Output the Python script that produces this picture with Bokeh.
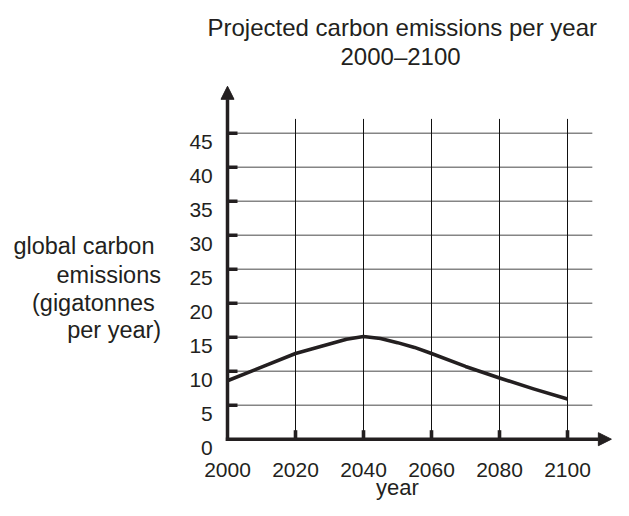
from bokeh.plotting import figure
from bokeh.models import Range1d, Arrow, NormalHead
from bokeh.embed import file_html
from bokeh.resources import INLINE
from bokeh.core.properties import value

# ---- data ----
years = [2000, 2010, 2020, 2025, 2030, 2035, 2040, 2045, 2050, 2055, 2060, 2070, 2080, 2090, 2100]
emissions = [8.6, 10.6, 12.6, 13.3, 14.0, 14.7, 15.1, 14.8, 14.2, 13.5, 12.6, 10.7, 9.0, 7.4, 5.9]
x_ticks = [2000, 2020, 2040, 2060, 2080, 2100]
y_ticks = [0, 5, 10, 15, 20, 25, 30, 35, 40, 45]
title_lines = ["Projected carbon emissions per year", "2000\u20132100"]
y_label_lines = ["global carbon", "emissions", "(gigatonnes", "per year)"]
x_label = "year"

INK = "#231f20"
FONT = "Liberation Sans"

W, H = 613, 500
PX_PER_YEAR = 3.4
PX_PER_UNIT = 6.8
ORIGIN_X, ORIGIN_Y = 227, 438.7  # canvas pixel position of (2000, 0)

x0 = x_ticks[0] - ORIGIN_X / PX_PER_YEAR
y1 = y_ticks[0] + ORIGIN_Y / PX_PER_UNIT
p = figure(width=W, height=H, output_backend="svg", toolbar_location=None,
           x_range=Range1d(x0, x0 + W / PX_PER_YEAR),
           y_range=Range1d(y1 - H / PX_PER_UNIT, y1),
           min_border=0, min_border_left=0, min_border_right=0,
           min_border_top=0, min_border_bottom=0)
p.axis.visible = False
p.xgrid.visible = False
p.ygrid.visible = False
p.title.visible = False
p.outline_line_color = None
p.background_fill_color = "white"
p.border_fill_color = "white"

x_min, y_min = x_ticks[0], y_ticks[0]

# grid lines
grid_right = x_ticks[-1] + 7.3
grid_top = y_ticks[-1] + 2.1
hy = y_ticks[1:]
p.segment(x0=[x_min] * len(hy), y0=hy, x1=[grid_right] * len(hy), y1=hy,
          line_color="#858585", line_width=1.5)
vx = x_ticks[1:]
p.segment(x0=vx, y0=[y_min] * len(vx), x1=vx, y1=[grid_top] * len(vx),
          line_color="#111111", line_width=1)

# data curve
p.line(years, emissions, line_color=INK, line_width=3.6, line_join="round")

# axes with arrow heads
p.add_layout(Arrow(end=NormalHead(size=13, fill_color=INK, line_color=INK, line_width=1),
                   x_start=x_min, y_start=y_min - 0.25, x_end=x_min, y_end=51.9,
                   line_color=INK, line_width=3.5))
p.add_layout(Arrow(end=NormalHead(size=13, fill_color=INK, line_color=INK, line_width=1),
                   x_start=x_min - 0.5, y_start=y_min, x_end=2112.9, y_end=y_min,
                   line_color=INK, line_width=3.5))

# tick marks
p.segment(x0=[x_min] * len(hy), y0=hy, x1=[x_min + 10 / PX_PER_YEAR] * len(hy), y1=hy,
          line_color=INK, line_width=3.6)
p.segment(x0=vx, y0=[y_min] * len(vx), x1=vx, y1=[y_min + 9 / PX_PER_UNIT] * len(vx),
          line_color=INK, line_width=3.6)

# tick labels
p.text(x=[x_min - 14.7 / PX_PER_YEAR] * len(y_ticks),
       y=[t - 8.3 / PX_PER_UNIT for t in y_ticks],
       text=[str(t) for t in y_ticks], text_font=value(FONT), text_font_size="21px",
       text_color=INK, text_align="right", text_baseline="alphabetic")
p.text(x=x_ticks, y=[y_min - 30.3 / PX_PER_UNIT] * len(x_ticks),
       text=[str(t) for t in x_ticks], text_font=value(FONT), text_font_size="21px",
       text_color=INK, text_align="center", text_baseline="alphabetic")

# titles and axis labels
def lab(xs, ys, texts, align, size):
    p.text(x=xs, y=ys, text=texts, text_font=value(FONT), text_font_size=size,
           text_color=INK, text_align=align, text_baseline="alphabetic")

lab([2051.4, 2050.9], [60.54, 56.35], title_lines, "center", "24px")
lab([1978.53, 1980.44, 1978.62, 1980.5], [28.34, 24.18, 20.10, 15.99],
    y_label_lines, "right", "23.5px")
lab([2050.0], [-7.1], [x_label], "center", "22px")

open("out.html", "w").write(file_html(p, INLINE))
